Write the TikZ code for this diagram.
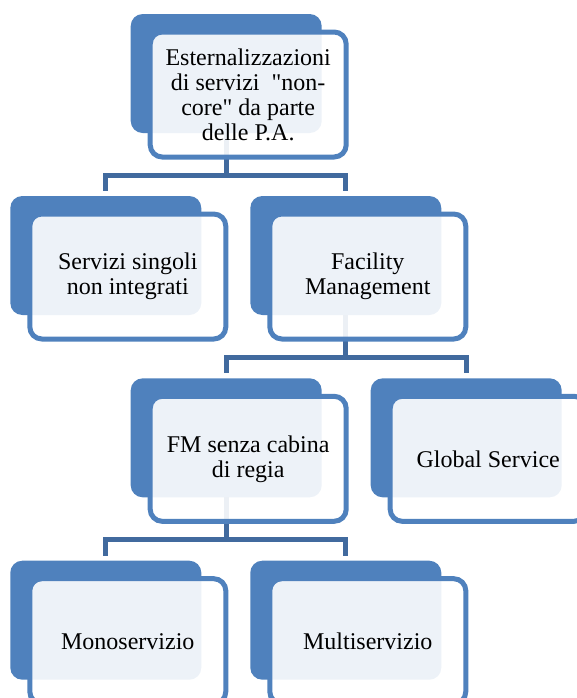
\documentclass[tikz,border=0pt]{standalone}
\usepackage{fontspec}
\setmainfont{Liberation Serif}
\usepackage{xcolor}
\usepackage{tikz}
\definecolor{boxblue}{RGB}{79,129,189}
\definecolor{linkblue}{RGB}{65,106,158}

\begin{document}
\begin{tikzpicture}[x=0.5pt,y=-0.5pt,
    back node/.style={rectangle,rounded corners=6pt,fill=boxblue,inner sep=0pt,outer sep=0pt,minimum width=95.5pt,minimum height=59.5pt},
    main node/.style={rectangle,rounded corners=6pt,draw=boxblue,line width=2.5pt,fill=white,fill opacity=0.9,text opacity=1,inner sep=0pt,minimum width=98pt,minimum height=62.5pt,align=center,font=\fontsize{12}{12.5}\selectfont},
    link/.style={draw=linkblue,line width=2.5pt}]
        \clip (0,0) rectangle (577,698);
        % back plates
        \node[back node] (b1) at (226.2,73.5) {};
        \node[back node] (b2) at (105.8,255.5) {};
        \node[back node] (b3) at (345.8,255.5) {};
        \node[back node] (b4) at (226.2,437.8) {};
        \node[back node] (b5) at (466.2,437.8) {};
        \node[back node] (b6) at (105.8,620.2) {};
        \node[back node] (b7) at (345.8,620.2) {};
        % tree links: 1->2,3  3->4,5  4->6,7
        \draw[link] (b1.south) -- ++(0,42) -| ([yshift=2.5pt]b2.north);
        \draw[link] (b1.south) -- ++(0,42) -| ([yshift=2.5pt]b3.north);
        \draw[link] (b3.south) -- ++(0,42) -| ([yshift=2.5pt]b4.north);
        \draw[link] (b3.south) -- ++(0,42) -| ([yshift=2.5pt]b5.north);
        \draw[link] (b4.south) -- ++(0,42) -| ([yshift=2.5pt]b6.north);
        \draw[link] (b4.south) -- ++(0,42) -| ([yshift=2.5pt]b7.north);
        % front cards
        \node[main node] (1) at (248.2,94.5) {Esternalizzazioni\\di servizi~ \textquotedbl non-\\core\textquotedbl{} da parte\\delle P.A.};
        \node[main node] (2) at (127.8,276.5) {Servizi singoli\\non integrati};
        \node[main node] (3) at (367.8,276.5) {Facility\\Management};
        \node[main node] (4) at (248.2,458.8) {FM senza cabina\\di regia};
        \node[main node] (5) at (488.2,458.8) {Global Service};
        \node[main node] (6) at (127.8,641.2) {Monoservizio};
        \node[main node] (7) at (367.8,641.2) {Multiservizio};
      \end{tikzpicture}
\end{document}
